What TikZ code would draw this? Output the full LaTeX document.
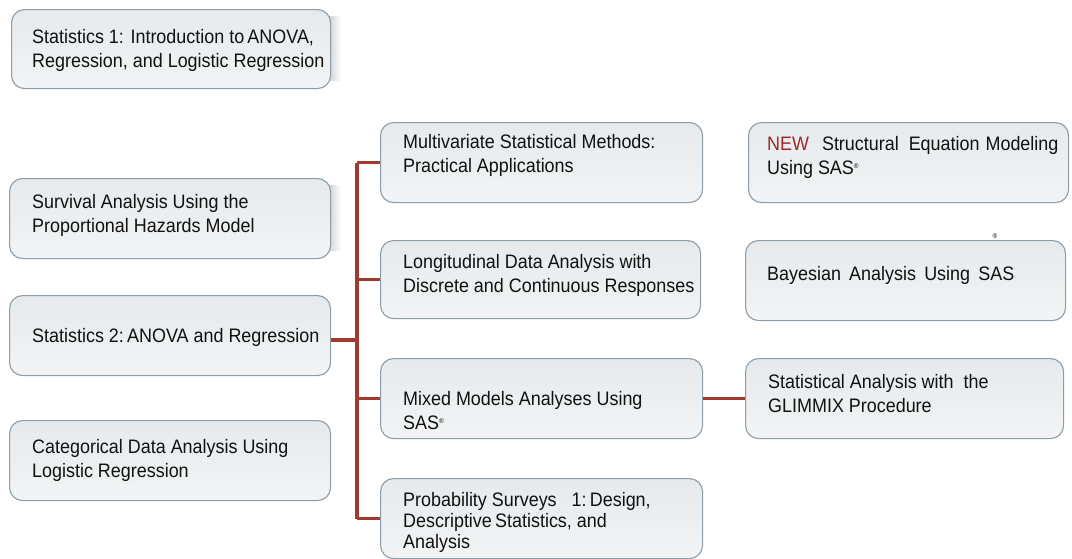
\documentclass[tikz,border=0pt]{standalone}
\usepackage{fontspec}
\setmainfont{Liberation Sans}[FakeStretch=0.92]
\definecolor{boxline}{HTML}{8C9DA8}
\definecolor{boxtop}{HTML}{E6EAEC}
\definecolor{boxbot}{HTML}{F2F4F5}
\definecolor{linkred}{HTML}{A23B2F}
\definecolor{newred}{HTML}{9E2A2B}
\definecolor{textc}{HTML}{111111}
\definecolor{shadowc}{HTML}{C3CACF}
\newcommand\regmark{\raisebox{6pt}{\fontsize{7}{7}\selectfont ®}}
\newcommand\twol[2]{\vtop{\hbox{#1}\hbox{#2}}}
\begin{document}
\begin{tikzpicture}[x=1pt,y=-1pt,
  box/.style={draw=boxline, line width=1.1pt, rounded corners=13pt,
    top color=boxtop, bottom color=boxbot, inner sep=0pt, anchor=north west,
    minimum height=80pt},
  txt/.style={anchor=base west, inner sep=0pt, text=textc,
    font=\fontsize{19.5}{24}\selectfont},
  link/.style={draw=linkred, line width=3.2pt}]
\useasboundingbox (0,0) rectangle (1072,558);
\clip (0,0) rectangle (1072,558);
% soft shadows on the right of two boxes
\fill[left color=shadowc, right color=white] (326,16) rectangle (341,80);
\fill[left color=shadowc, right color=white] (326,185) rectangle (341,250);
% boxes
\node[box, minimum width=319pt, minimum height=79pt] (s1) at (11,9) {};
\node[box, minimum width=321pt] (surv) at (9,178) {};
\node[box, minimum width=321pt] (s2) at (9,295) {};
\node[box, minimum width=321pt] (cat) at (9,420) {};
\node[box, minimum width=322pt] (multi) at (380,122) {};
\node[box, minimum width=320pt, minimum height=78pt] (longi) at (380,240) {};
\node[box, minimum width=322pt] (mixed) at (380,358) {};
\node[box, minimum width=322pt] (prob) at (380,478) {};
\node[box, minimum width=320pt] (sem) at (748,122) {};
\node[box, minimum width=320pt] (bayes) at (745,240) {};
\node[box, minimum width=318pt] (glim) at (745,358) {};
% texts
\node[txt] (ts1) at (32,43) {\twol{Statistics 1: Introduction to\,ANOVA,}{Regression, and Logistic Regression}};
\node[txt] (tsurv) at (32,208) {\twol{Survival Analysis Using the}{Proportional Hazards Model}};
\node[txt] (ts2) at (32,342) {Statistics 2:\,ANOVA and Regression};
\node[txt] (tcat) at (32,453) {\twol{Categorical Data Analysis Using}{Logistic Regression}};
\node[txt] (tmulti) at (403,148) {\twol{Multivariate Statistical Methods:}{Practical Applications}};
\node[txt] (tlongi) at (403,268) {\twol{Longitudinal Data Analysis with}{Discrete and Continuous Responses}};
\node[txt] (tmixed) at (403,405) {\twol{Mixed Models Analyses Using}{SAS\regmark}};
\node[txt] (tprob) at (403,506) {\baselineskip=21pt\vtop{\hbox{Probability Surveys\ \ \ 1:\,Design,}\hbox{Descriptive\,Statistics, and}\hbox{Analysis}}};
\node[txt] (tsem) at (767,150) {\twol{{\color{newred}NEW}\hspace{8pt} Structural\hspace{5pt} Equation\hspace{1pt} Modeling}{Using SAS\regmark}};
\node[txt] (tbayes) at (767,280) {Bayesian\, Analysis\, Using\, SAS};
\node[inner sep=0pt, text=textc, font=\fontsize{7}{7}\selectfont] (reg) at (995,236) {®};
\node[txt] (tglim) at (768,388) {\twol{Statistical Analysis with\ \ the}{GLIMMIX Procedure}};
% connectors
\coordinate (hub) at (357,340);
\draw[link] (s2.east |- hub) -- (hub);
\draw[link] (hub |- multi.west) -- (hub |- prob.west);
\foreach \n in {multi,longi,mixed,prob}
  \draw[link] (hub |- \n.west) -- (\n.west);
\draw[link] (mixed.east) -- (glim.west);
\end{tikzpicture}
\end{document}
